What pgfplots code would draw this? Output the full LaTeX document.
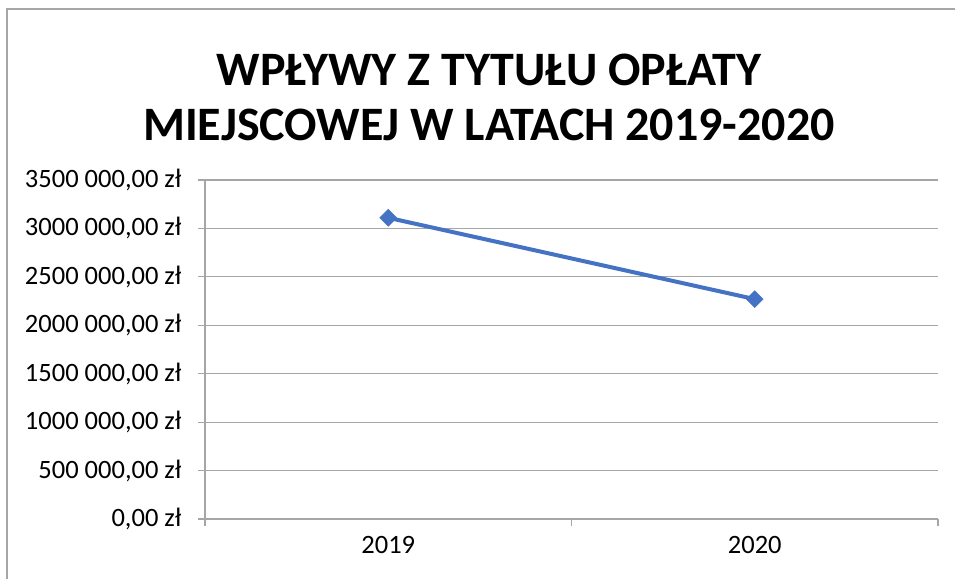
\documentclass[border=0pt]{standalone}
\usepackage{pgfplots}
\pgfplotsset{compat=1.18}
\usepackage{fontspec}
\setmainfont{Carlito}
\definecolor{excelblue}{HTML}{4472C4}
\definecolor{gridgray}{HTML}{A6A6A6}
\begin{document}
\begin{tikzpicture}[x=1bp,y=1bp]
\path[use as bounding box] (0,0) rectangle (955,579);
\draw[gridgray, line width=1.5bp] (7,0) -- (7,570) -- (955,570);
\node[align=center, font=\fontsize{48bp}{55bp}\selectfont\bfseries] at (489,482) {WPŁYWY Z TYTUŁU OPŁATY\\MIEJSCOWEJ W LATACH 2019-2020};
\begin{axis}[
  at={(205bp,60bp)}, anchor=origin,
  scale only axis, width=733bp, height=339bp,
  xmin=0, xmax=2, ymin=0, ymax=3500000,
  axis x line=bottom, axis y line=left,
  axis line style={-, gridgray, line width=1.2bp},
  xtick={0,1,2}, xticklabels={},
  extra x ticks={0.5,1.5}, extra x tick labels={2019,2020},
  extra x tick style={major tick length=0pt, xticklabel style={yshift=-14bp}},
  ytick={0,500000,1000000,1500000,2000000,2500000,3000000,3500000},
  yticklabels={{0,00 zł},{500 000,00 zł},{1000 000,00 zł},{1500 000,00 zł},{2000 000,00 zł},{2500 000,00 zł},{3000 000,00 zł},{3500 000,00 zł}},
  scaled ticks=false,
  tick align=outside, major tick length=7bp,
  tick style={gridgray, line width=1.2bp},
  ymajorgrids, major grid style={gridgray, line width=1.2bp},
  ticklabel style={font=\fontsize{26.5bp}{31bp}\selectfont, text=black},
  yticklabel style={xshift=-13bp},
  clip=false,
]
\addplot[excelblue, line width=4bp, mark=square*, mark size=6bp, mark options={solid, rotate=45, fill=excelblue, draw=excelblue, line width=0.5bp}] coordinates {(0.5,3110000) (1.5,2270000)};
\end{axis}
\end{tikzpicture}
\end{document}
